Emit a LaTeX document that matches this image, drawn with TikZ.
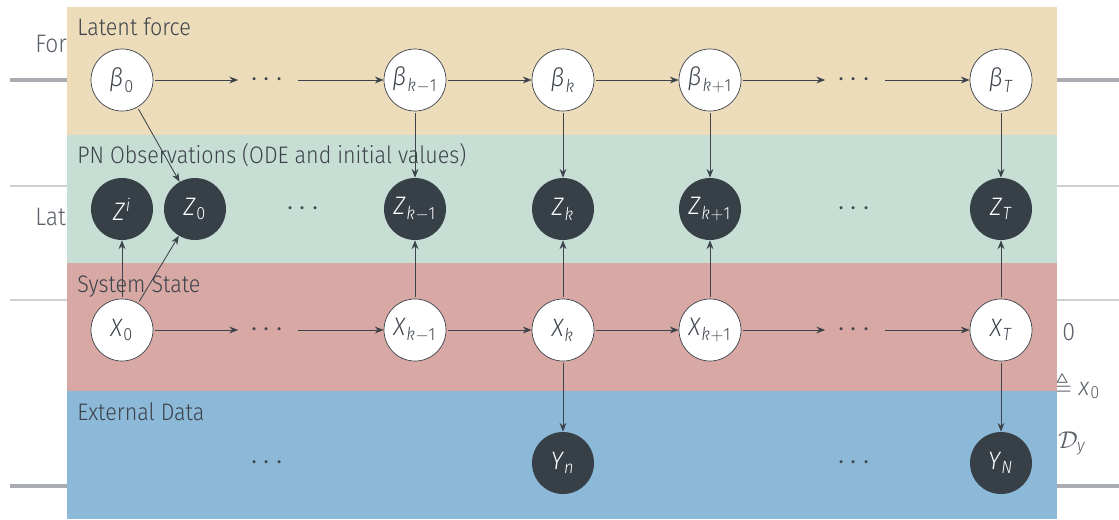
\documentclass[tikz,border=0pt]{standalone}
\usepackage{amssymb}
\usepackage{mathspec}
\setmainfont[FakeStretch=0.9]{Fira Sans Light}
\setmathsfont(Digits,Latin,Greek)[FakeStretch=0.92]{Fira Sans Light}
\usetikzlibrary{arrows.meta}
\definecolor{forceband}{HTML}{EDDCB9}
\definecolor{obsband}{HTML}{C7DED5}
\definecolor{stateband}{HTML}{D8A8A4}
\definecolor{databand}{HTML}{8DB9D8}
\definecolor{nodedark}{HTML}{373F47}
\definecolor{inkgray}{HTML}{3C434B}
\definecolor{slidegray}{HTML}{5A6068}
\definecolor{rulethick}{HTML}{A9ACB0}
\definecolor{rulethin}{HTML}{CDCFD1}
\newcommand{\skipdots}{$\cdot$\kern1.1mm$\cdot$\kern1.1mm$\cdot$}

\begin{document}
\begin{tikzpicture}[x=0.25mm,y=-0.25mm,>={Stealth[length=2.2mm,width=1.7mm]},
  latent/.style={circle,draw=inkgray,line width=0.5pt,fill=white,minimum size=15.5mm,inner sep=0pt,text=inkgray,font=\fontsize{18}{20}\selectfont},
  observed/.style={circle,fill=nodedark,minimum size=15.5mm,inner sep=0pt,text=white,font=\fontsize{18}{20}\selectfont},
  dotsnode/.style={inner sep=3mm,text=inkgray,font=\fontsize{20}{20}\selectfont},
  bandlabel/.style={anchor=base west,inner sep=0pt,text=inkgray,font=\fontsize{17}{20}\selectfont},
  slidetext/.style={inner sep=0pt,text=slidegray,font=\fontsize{18}{20}\selectfont},
  link/.style={->,draw=inkgray,line width=0.6pt,shorten <=1.5pt}]
\useasboundingbox[fill=white] (0,0) rectangle (1119,519);
% slide behind the diagram
\draw[rulethick,line width=1mm] (10,80) -- (1119,80);
\draw[rulethin,line width=0.4mm] (10,186) -- (1119,186);
\draw[rulethin,line width=0.4mm] (10,300) -- (1119,300);
\draw[rulethick,line width=1mm] (10,486) -- (1119,486);
\node[slidetext,anchor=base west] (fortxt) at (35,52) {For};
\node[slidetext,anchor=base west] (lattxt) at (35,225) {Lat};
\node[slidetext,anchor=base west] (zerotxt) at (1062,340) {$0$};
\node[slidetext,anchor=base west] (deftxt) at (1052,395) {$\triangleq x_0$};
\node[slidetext,anchor=base west] (dytxt) at (1058,448) {$\mathcal{D}_y$};
% bands
\fill[forceband] (67,7) rectangle (1057,135);
\fill[obsband] (67,135) rectangle (1057,263);
\fill[stateband] (67,263) rectangle (1057,391);
\fill[databand] (67,391) rectangle (1057,519);
\node[bandlabel] (lforce) at (77,35) {Latent force};
\node[bandlabel] (lobs) at (77,163) {PN Observations (ODE and initial values)};
\node[bandlabel] (lstate) at (77,292) {System State};
\node[bandlabel] (ldata) at (77,420) {External Data};
% latent force
\node[latent] (b0) at (122,80) {$\beta_0$};
\node[dotsnode] (bd1) at (267,80) {\skipdots};
\node[latent] (bkm) at (415,80) {$\beta_{k-1}$};
\node[latent] (bk) at (563,80) {$\beta_k$};
\node[latent] (bkp) at (710,80) {$\beta_{k+1}$};
\node[dotsnode] (bd2) at (854,80) {\skipdots};
\node[latent] (bT) at (1001,80) {$\beta_T$};
% observations
\node[observed] (zi) at (122,209) {$Z^i$};
\node[observed] (z0) at (195,209) {$Z_0$};
\node[dotsnode] (zd1) at (303,209) {\skipdots};
\node[observed] (zkm) at (415,209) {$Z_{k-1}$};
\node[observed] (zk) at (563,209) {$Z_k$};
\node[observed] (zkp) at (710,209) {$Z_{k+1}$};
\node[dotsnode] (zd2) at (854,209) {\skipdots};
\node[observed] (zT) at (1001,209) {$Z_T$};
% system state
\node[latent] (x0) at (122,330) {$X_0$};
\node[dotsnode] (xd1) at (267,330) {\skipdots};
\node[latent] (xkm) at (415,330) {$X_{k-1}$};
\node[latent] (xk) at (563,330) {$X_k$};
\node[latent] (xkp) at (710,330) {$X_{k+1}$};
\node[dotsnode] (xd2) at (854,330) {\skipdots};
\node[latent] (xT) at (1001,330) {$X_T$};
% data
\node[dotsnode] (yd1) at (267,463) {\skipdots};
\node[observed] (yn) at (563,463) {$Y_n$};
\node[dotsnode] (yd2) at (854,463) {\skipdots};
\node[observed] (yN) at (1001,463) {$Y_N$};
% chains
\draw[link] (b0) -- (bd1);
\draw[link] (bd1) -- (bkm);
\draw[link] (bkm) -- (bk);
\draw[link] (bk) -- (bkp);
\draw[link] (bkp) -- (bd2);
\draw[link] (bd2) -- (bT);
\draw[link] (x0) -- (xd1);
\draw[link] (xd1) -- (xkm);
\draw[link] (xkm) -- (xk);
\draw[link] (xk) -- (xkp);
\draw[link] (xkp) -- (xd2);
\draw[link] (xd2) -- (xT);
% into the observations
\draw[link] (b0) -- (z0);
\draw[link] (bkm) -- (zkm);
\draw[link] (bk) -- (zk);
\draw[link] (bkp) -- (zkp);
\draw[link] (bT) -- (zT);
\draw[link] (x0) -- (zi);
\draw[link] (x0) -- (z0);
\draw[link] (xkm) -- (zkm);
\draw[link] (xk) -- (zk);
\draw[link] (xkp) -- (zkp);
\draw[link] (xT) -- (zT);
% into the data
\draw[link] (xk) -- (yn);
\draw[link] (xT) -- (yN);
\end{tikzpicture}
\end{document}
